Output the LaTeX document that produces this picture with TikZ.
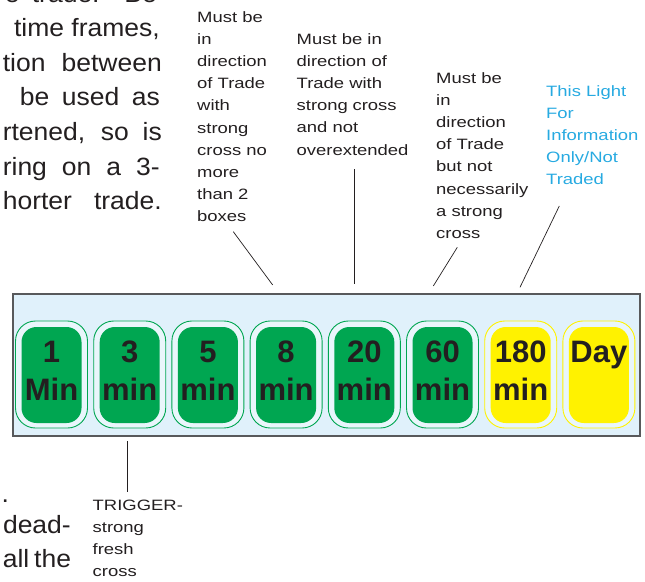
\documentclass[tikz,border=0pt]{standalone}
\usepackage{fontspec}
\setmainfont{Liberation Sans}
\newfontfamily\annotfont[FakeStretch=1.23]{Liberation Sans}
\newfontfamily\parfont[FakeStretch=1.06]{Liberation Sans}
\definecolor{ink}{HTML}{231F20}
\definecolor{panelbg}{HTML}{E0F1FB}
\definecolor{panelline}{HTML}{58595B}
\definecolor{ringbg}{HTML}{E9F6FB}
\definecolor{lgreen}{HTML}{00A651}
\definecolor{lyellow}{HTML}{FFF200}
\definecolor{infocyan}{HTML}{27AAE1}
\newcommand\lightlabel[1]{\begin{tabular}[t]{@{}c@{}}#1\end{tabular}}
\newcommand\annotbox[1]{\parbox[t]{100pt}{\raggedright #1}}
\tikzset{
  ring/.style={draw=#1, line width=0.9pt, fill=ringbg, rounded corners=20pt,
    minimum width=72pt, minimum height=107pt, inner sep=0pt},
  lamp/.style={fill=#1, rounded corners=15pt, minimum width=60pt,
    minimum height=96pt, inner sep=0pt},
  lamptext/.style={anchor=base, inner sep=0pt, text=ink,
    font=\fontsize{31}{38}\selectfont\bfseries},
  annot/.style={anchor=base west, inner sep=0pt, text=ink,
    font=\annotfont\fontsize{15}{22.1}\selectfont},
  para/.style={anchor=base east, inner sep=0pt, text=ink,
    font=\parfont\fontsize{25}{34.6}\selectfont},
  leader/.style={draw=ink, line width=0.7pt},
}
\begin{document}
\begin{tikzpicture}[x=1pt,y=-1pt]
\useasboundingbox (0,0) rectangle (645,581);
\clip (0,0) rectangle (645,581);

% paragraph fragments (cut by the left edge, as in the reference)
\node[para] (p1) at (157,2.5) {\makebox[152pt][s]{e trade. Be}};
\node[para] (p2) at (160,36.5) {time frames,};
\node[para] (p3) at (162,71) {\makebox[159pt][s]{tion between}};
\node[para] (p4) at (160,105.5) {\makebox[140pt][s]{be used as}};
\node[para] (p5) at (162,140) {\makebox[159pt][s]{rtened, so is}};
\node[para] (p6) at (160,175) {\makebox[157pt][s]{ring on a 3-}};
\node[para] (p7) at (162,209) {\makebox[159pt][s]{horter trade.}};
\node[para, anchor=base west] (p8) at (1.5,502) {.};
\node[para] (p9) at (71,533.5) {dead-};
\node[para] (p10) at (71,567) {\makebox[68pt][s]{all the}};

% panel
\node[draw=panelline, line width=1.4pt, fill=panelbg, inner sep=0pt,
  minimum width=627pt, minimum height=142pt] (panel) at (326.5,365) {};

% lights
\foreach \i/\col/\a/\b in {0/lgreen/1/Min, 1/lgreen/3/min, 2/lgreen/5/min,
    3/lgreen/8/min, 4/lgreen/20/min, 5/lgreen/60/min, 6/lyellow/180/min,
    7/lyellow/Day/{}} {
  \pgfmathsetmacro\cx{51.5+78.2*\i}
  \node[ring=\col] (r\i) at (\cx,374.5) {};
  \node[lamp=\col] (l\i) at (\cx,375) {};
  \node[lamptext] (t\i) at (\cx,362) {\lightlabel{\a\\\b}};
}

% annotations
\node[annot] (nA) at (197,22.5) {\annotbox{Must be\\in\\direction\\of Trade\\with\\strong\\cross no\\more\\than 2\\boxes}};
\node[annot] (nB) at (296.5,44.5) {\annotbox{Must be in\\direction of\\Trade with\\strong cross\\and not\\overextended}};
\node[annot] (nC) at (436,83.5) {\annotbox{Must be\\in\\direction\\of Trade\\but not\\necessarily\\a strong\\cross}};
\node[annot, text=infocyan] (nD) at (546,96) {\annotbox{This Light\\For\\Information\\Only/Not\\Traded}};
\node[annot] (nE) at (92.5,510) {\annotbox{TRIGGER-\\strong\\fresh\\cross}};

% leader end points
\coordinate (aA1) at (233.3,231.7);
\coordinate (aA2) at (272.7,285);
\coordinate (aB1) at (354.3,169);
\coordinate (aB2) at (354.3,283.5);
\coordinate (aC1) at (457.3,247.3);
\coordinate (aC2) at (433.3,286);
\coordinate (aD1) at (559.3,206);
\coordinate (aD2) at (520,287.3);
\coordinate (aE1) at (127.7,441);
\coordinate (aE2) at (127.7,492);

\draw[leader] (aA1) -- (aA2);
\draw[leader] (aB1) -- (aB2);
\draw[leader] (aC1) -- (aC2);
\draw[leader] (aD1) -- (aD2);
\draw[leader] (aE1) -- (aE2);
\end{tikzpicture}
\end{document}
